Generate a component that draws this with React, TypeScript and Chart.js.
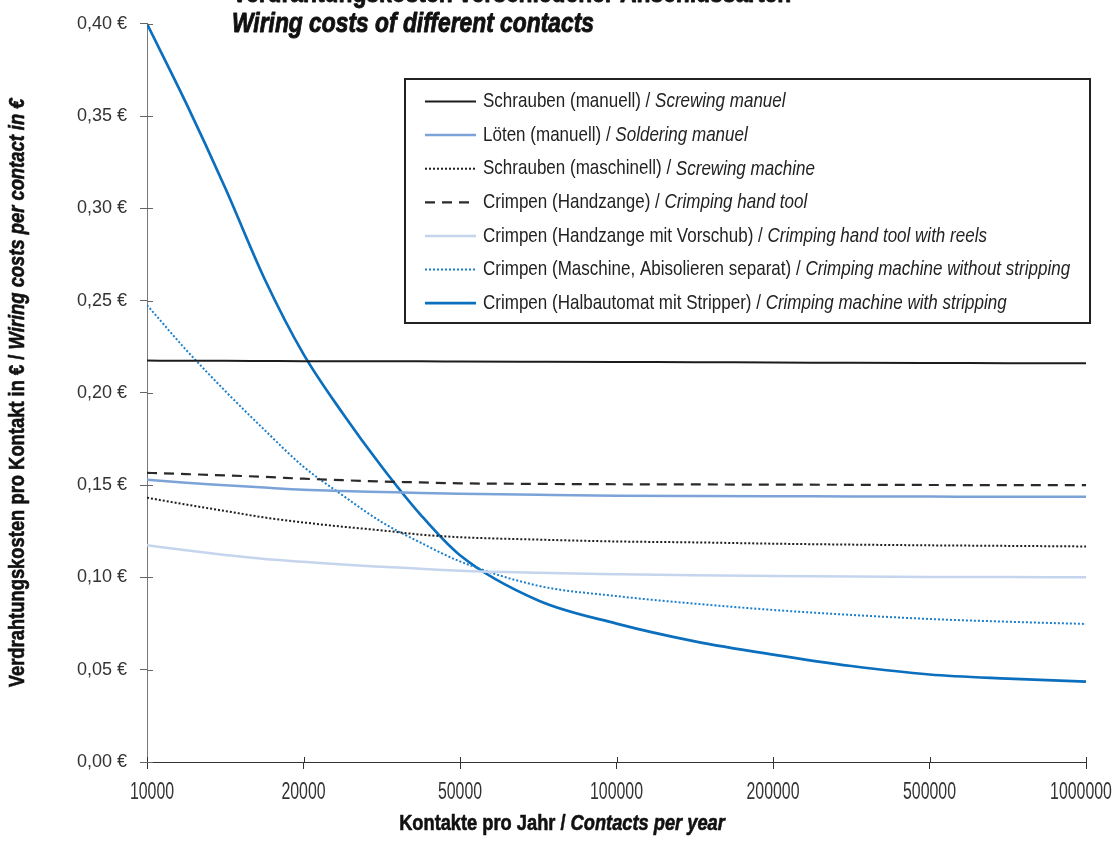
import React, { useEffect, useRef } from "react";
import { Chart, registerables } from "chart.js";

Chart.register(...registerables);

// ---------- data ----------
const categories = ["10000", "20000", "50000", "100000", "200000", "500000", "1000000"];
// sample positions along the (evenly spaced) category axis, in category-index units
const positions = [0, 0.25, 0.5, 0.75, 1, 1.25, 1.5, 1.75, 2, 2.5, 3, 3.5, 4, 4.5, 5, 5.5, 6];

const schraubenManuell = [0.2175, 0.2174, 0.2174, 0.2173, 0.2172, 0.2172, 0.2171, 0.2171, 0.217, 0.2169, 0.2168, 0.2166, 0.2165, 0.2163, 0.2162, 0.2161, 0.216];
const loetenManuell = [0.1529, 0.1513, 0.15, 0.1487, 0.1475, 0.1468, 0.1463, 0.1458, 0.1454, 0.1448, 0.1443, 0.1441, 0.144, 0.1439, 0.1438, 0.1437, 0.1437];
const schraubenMaschinell = [0.1432, 0.1395, 0.136, 0.1325, 0.1298, 0.1275, 0.1255, 0.1232, 0.1218, 0.1205, 0.1195, 0.119, 0.1183, 0.1178, 0.1174, 0.1171, 0.1168];
const crimpenHandzange = [0.1567, 0.156, 0.1553, 0.1545, 0.1535, 0.1527, 0.152, 0.1515, 0.151, 0.1507, 0.1505, 0.1504, 0.1503, 0.1502, 0.1501, 0.15, 0.15];
const crimpenVorschub = [0.1174, 0.1147, 0.1122, 0.11, 0.1085, 0.107, 0.1058, 0.1047, 0.1036, 0.1025, 0.1018, 0.1012, 0.1008, 0.1005, 0.1003, 0.1002, 0.1001];
const crimpenMaschine = [0.2476, 0.2233, 0.201, 0.18, 0.16, 0.1445, 0.13, 0.1188, 0.1087, 0.0955, 0.0899, 0.0858, 0.0824, 0.0797, 0.0775, 0.076, 0.0748];
const crimpenHalbautomat = [0.4, 0.357, 0.311, 0.262, 0.221, 0.189, 0.16, 0.1338, 0.112, 0.0875, 0.075, 0.0654, 0.0582, 0.052, 0.0474, 0.0452, 0.0436];

const labelsDe = [
  "Schrauben (manuell)",
  "Löten (manuell)",
  "Schrauben (maschinell)",
  "Crimpen (Handzange)",
  "Crimpen (Handzange mit Vorschub)",
  "Crimpen (Maschine, Abisolieren separat)",
  "Crimpen (Halbautomat mit Stripper)",
];
const labelsEn = [
  "Screwing manuel",
  "Soldering manuel",
  "Screwing machine",
  "Crimping hand tool",
  "Crimping hand tool with reels",
  "Crimping machine without stripping",
  "Crimping machine with stripping",
];

const titleDe = "Verdrahtungskosten verschiedener Anschlussarten";
const titleEn = "Wiring costs of different contacts";
const xTitleDe = "Kontakte pro Jahr / ";
const xTitleEn = "Contacts per year";
const yTitleDe = "Verdrahtungskosten pro Kontakt in € / ";
const yTitleEn = "Wiring costs per contact in €";

const yMin = 0;
const yMax = 0.4;
const yStep = 0.05;

// ---------- styles ----------
const SANS = "'Liberation Sans', Arial, Helvetica, sans-serif";

const seriesValues = [
  schraubenManuell,
  loetenManuell,
  schraubenMaschinell,
  crimpenHandzange,
  crimpenVorschub,
  crimpenMaschine,
  crimpenHalbautomat,
];
const seriesStyles = [
  { color: "#1c1c1c", width: 2, dash: [] as number[] },
  { color: "#7ba3d8", width: 2.5, dash: [] as number[] },
  { color: "#1e1e1e", width: 2, dash: [2, 2] },
  { color: "#2a2a2a", width: 2.2, dash: [10, 7] },
  { color: "#c6d5ee", width: 2.5, dash: [] as number[] },
  { color: "#1c7fcb", width: 2, dash: [2, 2] },
  { color: "#0b6fbd", width: 2.7, dash: [] as number[] },
];

function drawNarrow(
  ctx: CanvasRenderingContext2D,
  segs: { text: string; font: string }[],
  x: number,
  y: number,
  align: "left" | "center",
  squeeze: number,
  heavy = 0
) {
  let total = 0;
  const widths = segs.map((s) => {
    ctx.font = s.font;
    const w = ctx.measureText(s.text).width;
    total += w;
    return w;
  });
  ctx.save();
  ctx.translate(x, y);
  ctx.scale(squeeze, 1);
  let cx = align === "center" ? -total / 2 : 0;
  segs.forEach((s, i) => {
    ctx.font = s.font;
    ctx.textAlign = "left";
    ctx.fillText(s.text, cx, 0);
    if (heavy > 0) {
      ctx.lineWidth = heavy;
      ctx.strokeStyle = ctx.fillStyle as string;
      ctx.lineJoin = "round";
      ctx.strokeText(s.text, cx, 0);
    }
    cx += widths[i];
  });
  ctx.restore();
}

const decorPlugin = {
  id: "decor",
  afterDraw(chart: any) {
    const ctx: CanvasRenderingContext2D = chart.ctx;
    const area = chart.chartArea;
    const xs = chart.scales.x;
    const ys = chart.scales.y;
    ctx.save();

    // inner parts of the crossing tick marks
    ctx.lineWidth = 1;
    ctx.strokeStyle = "#666";
    ys.ticks.forEach((t: any) => {
      const py = Math.round(ys.getPixelForValue(t.value)) + 0.5;
      ctx.beginPath();
      ctx.moveTo(area.left, py);
      ctx.lineTo(area.left + 6, py);
      ctx.stroke();
    });
    ctx.strokeStyle = "#333";
    xs.ticks.forEach((t: any) => {
      const px = Math.round(xs.getPixelForValue(t.value)) + 0.5;
      ctx.beginPath();
      ctx.moveTo(px, area.bottom);
      ctx.lineTo(px, area.bottom - 5);
      ctx.stroke();
    });

    // x tick labels (condensed); outermost labels nudged inward like the original
    ctx.fillStyle = "#333";
    ctx.textBaseline = "middle";
    const nTicks = xs.ticks.length;
    xs.ticks.forEach((t: any, k: number) => {
      const label = categories[Math.round(t.value)];
      if (label === undefined) return;
      const nudge = k === 0 ? 5 : k === nTicks - 1 ? -5 : 0;
      drawNarrow(ctx, [{ text: label, font: `23px ${SANS}` }], xs.getPixelForValue(t.value) + nudge, area.bottom + 31, "center", 0.69);
    });

    // title
    ctx.fillStyle = "#111";
    ctx.textBaseline = "alphabetic";
    drawNarrow(ctx, [{ text: titleDe, font: `bold 27px ${SANS}` }], 232, 2, "left", 0.845, 0.9);
    drawNarrow(ctx, [{ text: titleEn, font: `italic bold 27px ${SANS}` }], 232, 32, "left", 0.845, 0.9);

    // x-axis title
    ctx.textBaseline = "middle";
    drawNarrow(
      ctx,
      [
        { text: xTitleDe, font: `bold 22px ${SANS}` },
        { text: xTitleEn, font: `italic bold 22px ${SANS}` },
      ],
      562,
      824,
      "center",
      0.83,
      0.6
    );

    // y-axis title
    ctx.save();
    ctx.translate(18, (area.top + area.bottom) / 2);
    ctx.rotate(-Math.PI / 2);
    drawNarrow(
      ctx,
      [
        { text: yTitleDe, font: `bold 22px ${SANS}` },
        { text: yTitleEn, font: `italic bold 22px ${SANS}` },
      ],
      0,
      0,
      "center",
      0.835,
      0.6
    );
    ctx.restore();

    // legend
    const boxL = 405;
    const boxT = 79;
    const boxW = 685;
    const boxH = 244;
    ctx.fillStyle = "#fff";
    ctx.fillRect(boxL, boxT, boxW, boxH);
    ctx.lineWidth = 2;
    ctx.strokeStyle = "#222";
    ctx.strokeRect(boxL, boxT, boxW, boxH);
    chart.data.datasets.forEach((ds: any, i: number) => {
      const cy = boxT + 22.5 + i * 33.6;
      ctx.beginPath();
      ctx.setLineDash(ds.borderDash || []);
      ctx.lineWidth = ds.borderWidth;
      ctx.strokeStyle = ds.borderColor;
      ctx.moveTo(boxL + 20, cy);
      ctx.lineTo(boxL + 71, cy);
      ctx.stroke();
      ctx.setLineDash([]);
      ctx.fillStyle = "#222";
      ctx.textBaseline = "middle";
      drawNarrow(
        ctx,
        [
          { text: labelsDe[i] + " / ", font: `21px ${SANS}` },
          { text: labelsEn[i], font: `italic 21px ${SANS}` },
        ],
        boxL + 78,
        cy,
        "left",
        0.81
      );
    });

    ctx.restore();
  },
};

export default function App() {
  const canvasRef = useRef<HTMLCanvasElement | null>(null);

  useEffect(() => {
    if (!canvasRef.current) return;
    const datasets = seriesValues.map((vals, i) => ({
      label: labelsDe[i] + " / " + labelsEn[i],
      data: vals.map((v, j) => ({ x: positions[j], y: v })),
      borderColor: seriesStyles[i].color,
      backgroundColor: seriesStyles[i].color,
      borderWidth: seriesStyles[i].width,
      borderDash: seriesStyles[i].dash,
      pointRadius: 0,
      fill: false,
      cubicInterpolationMode: "monotone" as const,
    }));

    const chart = new Chart(canvasRef.current, {
      type: "line",
      data: { datasets },
      options: {
        animation: false,
        responsive: true,
        maintainAspectRatio: false,
        layout: { padding: { left: 0, right: 34, top: 19, bottom: 0 } },
        plugins: {
          legend: { display: false },
          tooltip: { enabled: false },
          title: { display: false },
        },
        scales: {
          x: {
            type: "linear",
            min: 0,
            max: positions[positions.length - 1],
            afterFit: (scale: any) => {
              scale.height = 100;
            },
            ticks: {
              display: false,
              stepSize: 1,
              autoSkip: false,
              maxRotation: 0,
            },
            grid: {
              display: true,
              drawOnChartArea: false,
              drawTicks: true,
              tickLength: 7,
              color: "#333",
            },
            border: { display: true, color: "#333", width: 1 },
          },
          y: {
            type: "linear",
            min: yMin,
            max: yMax,
            afterFit: (scale: any) => {
              scale.width = 147;
            },
            ticks: {
              stepSize: yStep,
              padding: 13,
              color: "#333",
              font: { family: SANS, size: 18 },
              callback: (value: any) => Number(value).toFixed(2).replace(".", ",") + " €",
            },
            grid: {
              display: true,
              drawOnChartArea: false,
              drawTicks: true,
              tickLength: 7,
              color: "#666",
            },
            border: { display: true, color: "#777", width: 1 },
          },
        },
      },
      plugins: [decorPlugin],
    });
    return () => chart.destroy();
  }, []);

  return (
    <div style={{ position: "fixed", left: 0, top: 0, width: 1120, height: 862, background: "#fff" }}>
      <canvas ref={canvasRef} />
    </div>
  );
}
